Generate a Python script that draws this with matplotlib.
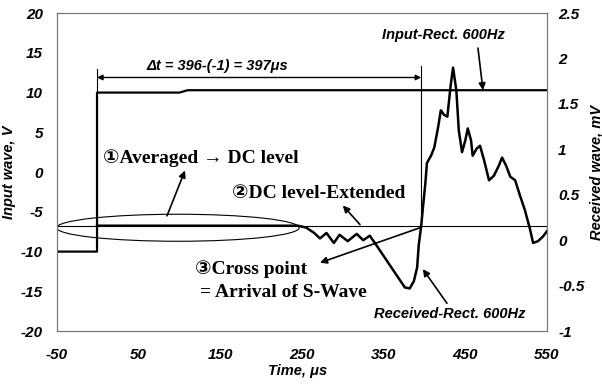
import matplotlib
matplotlib.use("Agg")
import matplotlib.pyplot as plt
import matplotlib.patches as patches

plt.rcParams["axes.unicode_minus"] = False

# input rectangular wave (V)
input_t = [-50, -1, -1, 100, 110, 550]
input_v = [-10, -10, 10, 10, 10.3, 10.3]

# received wave (mV)
recv_t = [-1, 245, 255, 265, 272, 280, 289, 296, 306, 317, 325, 333, 340,
          352, 364, 376, 382, 387, 391, 393, 396, 398, 401, 403, 408, 412,
          417, 420, 424, 428, 432, 435, 439, 442, 446, 450, 453, 457, 459,
          464, 468, 473, 479, 485, 491, 495, 500, 505, 511, 517, 523, 529,
          533, 539, 545, 550]
recv_mv = [0.16, 0.16, 0.14, 0.08, 0.02, 0.08, -0.03, 0.06, -0.01, 0.07,
           0.00, 0.05, -0.04,
           -0.20, -0.36, -0.52, -0.53, -0.45, -0.30, -0.05, 0.16, 0.35,
           0.62, 0.85, 0.93, 1.02,
           1.26, 1.43, 1.38, 1.36, 1.70, 1.90, 1.65, 1.21, 0.97, 1.10, 1.23,
           1.10, 0.93,
           1.01, 1.04, 0.88, 0.66, 0.71, 0.82, 0.91, 0.82, 0.70, 0.66, 0.49,
           0.33, 0.13,
           -0.03, -0.01, 0.04, 0.10]

x_ticks = [-50, 50, 150, 250, 350, 450, 550]
left_ticks = [-20, -15, -10, -5, 0, 5, 10, 15, 20]
right_ticks = [-1, -0.5, 0, 0.5, 1, 1.5, 2, 2.5]
right_labels = ["-1", "-0.5", "0", "0.5", "1", "1.5", "2", "2.5"]

dc_level = -6.73      # in V units of left axis
t_start, t_cross = -1, 396

sans = dict(family="Liberation Sans", fontweight="bold", fontstyle="italic")
serif = dict(family=["Liberation Serif", "DejaVu Sans"], fontweight="bold")

fig = plt.figure(figsize=(6.02, 3.85), dpi=100)
ax = fig.add_axes([0.0947, 0.140, 0.8139, 0.826])
ax2 = ax.twinx()

ax.plot(input_t, input_v, color="black", lw=1.6, zorder=3)
ax2.plot(recv_t, recv_mv, color="black", lw=1.8, zorder=3)
ax.axhline(dc_level, color="black", lw=0.8, zorder=2)

ax.set_xlim(-50, 550)
ax.set_ylim(-20, 20)
ax2.set_ylim(-1, 2.5)

ax.set_xticks(x_ticks)
ax.set_yticks(left_ticks)
ax2.set_yticks(right_ticks)
ax2.set_yticklabels(right_labels)
ax.tick_params(length=0, pad=10)
ax.tick_params(axis="x", pad=12)
ax2.tick_params(length=0, pad=8)
for lab in ax.get_xticklabels() + ax.get_yticklabels() + ax2.get_yticklabels():
    lab.set_fontsize(11)
    lab.set_fontweight("bold")
    lab.set_fontstyle("italic")
    lab.set_family("Liberation Sans")

for a in (ax, ax2):
    for s in a.spines.values():
        s.set_color("#777777")
        s.set_linewidth(0.8)

ax.set_xlabel("Time, μs", fontsize=10.5, **sans)
ax.xaxis.set_label_coords(0.49, -0.105)
ax.set_ylabel("Input wave, V", fontsize=10.5, **sans)
ax.yaxis.set_label_coords(-0.083, 0.5)
ax2.set_ylabel("Received wave, mV", fontsize=10.5, **sans)
ax2.yaxis.set_label_coords(1.086, 0.5)

# delta t marker
ax.plot([t_start, t_start], [10, 13], color="black", lw=0.8)
ax.plot([t_cross, t_cross], [dc_level, 13.3], color="black", lw=0.8)
ax.annotate("", xy=(t_start, 11.9), xytext=(t_cross, 11.9),
            arrowprops=dict(arrowstyle="<|-|>", color="black", lw=1.0,
                            mutation_scale=8, shrinkA=0, shrinkB=0))
ax.text(146, 13.3, "Δt = 396-(-1) = 397μs", ha="center", va="center",
        fontsize=10.5, **sans)

# averaged region ellipse
ax.add_patch(patches.Ellipse((98, -7.0), 297, 3.4, fill=False,
                             edgecolor="black", lw=0.8, zorder=2))

arrow = dict(arrowstyle="-|>", color="black", lw=1.2, mutation_scale=10,
             shrinkA=0, shrinkB=0)

ax.text(6, 1.8, "①Averaged → DC level", ha="left", va="center",
        fontsize=14, **serif)
ax.annotate("", xy=(106.7, 0.2), xytext=(84.7, -5.5), arrowprops=arrow)

ax.text(164, -2.7, "②DC level-Extended", ha="left", va="center",
        fontsize=14, **serif)
ax.annotate("", xy=(300, -4.2), xytext=(321, -6.6), arrowprops=arrow)

ax.text(119, -12.2, "③Cross point", ha="left", va="center",
        fontsize=14, **serif)
ax.text(125, -15.2, "= Arrival of S-Wave", ha="left", va="center",
        fontsize=14, **serif)
ax.annotate("", xy=(272, -11.4), xytext=(394.5, -7.0), arrowprops=arrow)

ax.text(422.6, 17.2, "Input-Rect. 600Hz", ha="center", va="center",
        fontsize=10.5, **sans)
ax.annotate("", xy=(471.6, 10.3), xytext=(465.5, 15.6), arrowprops=arrow)

ax.text(431, -17.9, "Received-Rect. 600Hz", ha="center", va="center",
        fontsize=10.5, **sans)
ax.annotate("", xy=(398, -12.2), xytext=(427.5, -16.5), arrowprops=arrow)

fig.savefig("out.png", dpi=100)
